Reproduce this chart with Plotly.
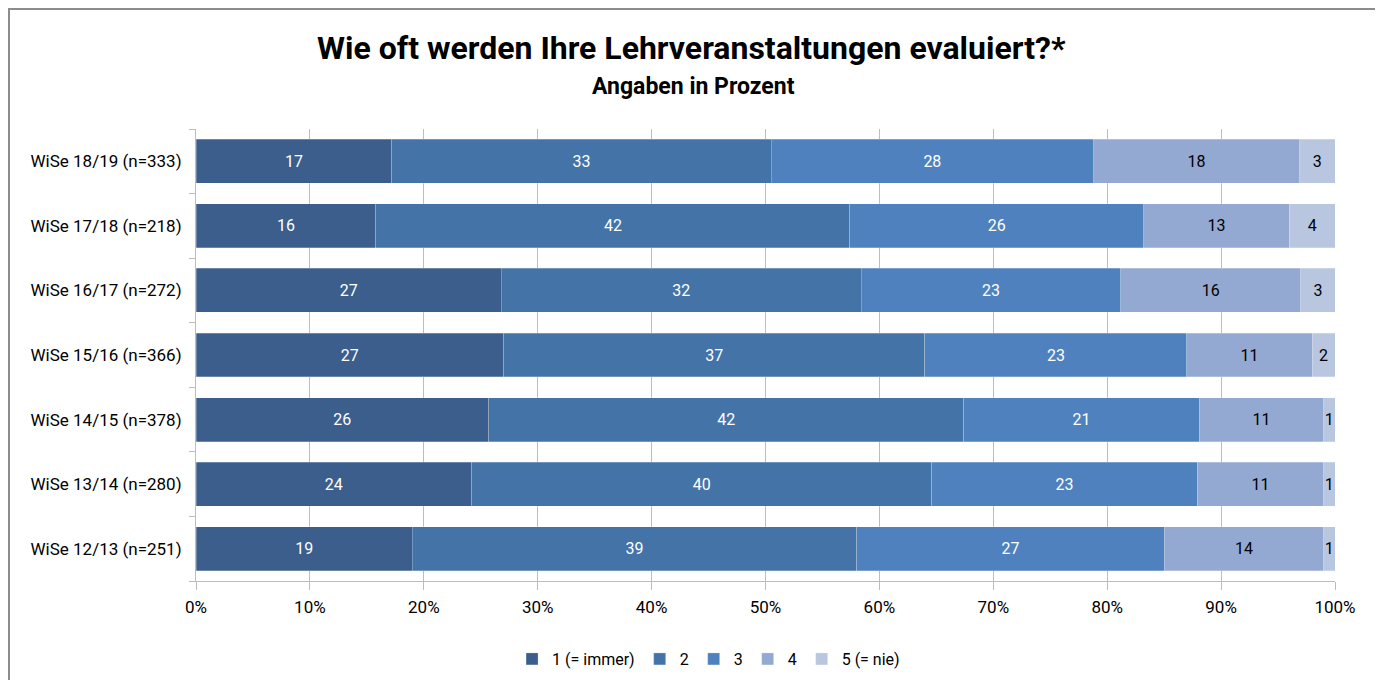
import plotly.graph_objects as go

# Kategorien (von unten nach oben wie im Original)
semester = ["WiSe 12/13 (n=251)", "WiSe 13/14 (n=280)", "WiSe 14/15 (n=378)",
            "WiSe 15/16 (n=366)", "WiSe 16/17 (n=272)", "WiSe 17/18 (n=218)",
            "WiSe 18/19 (n=333)"]

antworten = ["1 (= immer)", "2", "3", "4", "5 (= nie)"]

# Anteile in Prozent, je Antwortkategorie (gleiche Reihenfolge wie semester)
werte_1 = [19.0, 24.2, 25.7, 27.0, 26.8, 15.8, 17.2]
werte_2 = [39.0, 40.4, 41.7, 37.0, 31.6, 41.6, 33.3]
werte_3 = [27.0, 23.3, 20.7, 23.0, 22.8, 25.8, 28.3]
werte_4 = [14.0, 11.1, 10.9, 11.0, 15.8, 12.8, 18.1]
werte_5 = [1.0, 1.0, 1.0, 2.0, 3.0, 4.0, 3.1]

x_ticks = [0, 10, 20, 30, 40, 50, 60, 70, 80, 90, 100]
x_ticklabels = [f"{t}%" for t in x_ticks]

titel = "Wie oft werden Ihre Lehrveranstaltungen evaluiert?*"
untertitel = "Angaben in Prozent"

farben = ["#3B5E8C", "#4473A8", "#4E81BD", "#94A9D1", "#B9C6E0"]
textfarben = ["white", "white", "white", "black", "black"]

FONT = "Roboto, sans-serif"

fig = go.Figure()
for name, werte, farbe, tf in zip(antworten, [werte_1, werte_2, werte_3, werte_4, werte_5],
                                  farben, textfarben):
    fig.add_trace(go.Bar(
        y=semester, x=werte, name=name, orientation="h",
        marker=dict(color=farbe, line=dict(color="rgba(255,255,255,0.5)", width=0.5)),
        texttemplate="%{x:.0f}", textposition="inside", insidetextanchor="middle",
        textfont=dict(color=tf, size=16, family=FONT),
        constraintext="none",
    ))

# Seite hat 8px Rand -> Ränder entsprechend verschoben
L, R, T, B = 188, 56, 121, 107
PW, PH = 1383 - L - R, 680 - T - B

fig.update_layout(
    barmode="stack", bargap=0.32,
    width=1383, height=680,
    margin=dict(l=L, r=R, t=T, b=B),
    paper_bgcolor="white", plot_bgcolor="white",
    font=dict(family=FONT, size=16, color="black"),
    legend=dict(orientation="h", x=0.45, xanchor="center", y=-0.135, yanchor="top",
                font=dict(size=16, family=FONT), traceorder="normal",
                itemwidth=30),
    showlegend=True,
)

# Titel und Untertitel
fig.add_annotation(text=f"<b>{titel}</b>", xref="paper", yref="paper",
                   x=0.435, y=1.18, xanchor="center", yanchor="middle",
                   showarrow=False, font=dict(size=32, family=FONT, color="black"))
fig.add_annotation(text=f"<b>{untertitel}</b>", xref="paper", yref="paper",
                   x=0.437, y=1.093, xanchor="center", yanchor="middle",
                   showarrow=False, font=dict(size=23, family=FONT, color="black"))

fig.update_xaxes(
    range=[0, 100], tickvals=x_ticks, ticktext=x_ticklabels,
    showgrid=True, gridcolor="#BDBDBD", gridwidth=1,
    ticks="outside", ticklen=8, tickcolor="#BDBDBD",
    showline=True, linecolor="#BDBDBD", linewidth=1,
    tickfont=dict(size=17, family=FONT), zeroline=False, automargin=False,
    ticklabelstandoff=3,
)
fig.update_yaxes(
    categoryorder="array", categoryarray=semester,
    ticks="outside", ticklen=6, tickcolor="#BDBDBD", tickson="boundaries",
    showline=True, linecolor="#BDBDBD", linewidth=1,
    tickfont=dict(size=17, family=FONT), automargin=False,
    ticklabelstandoff=10,
)

# Rahmen um das gesamte Diagramm (Pixel der Figur in Papierkoordinaten)
fig.add_shape(type="rect", xref="paper", yref="paper",
              x0=(1 - L) / PW, x1=(1370 - L) / PW,
              y0=(PH + T - 700) / PH, y1=(PH + T - 1) / PH,
              line=dict(color="#8C8C8C", width=2), fillcolor="rgba(0,0,0,0)", layer="below")

fig.write_html("out.html")
